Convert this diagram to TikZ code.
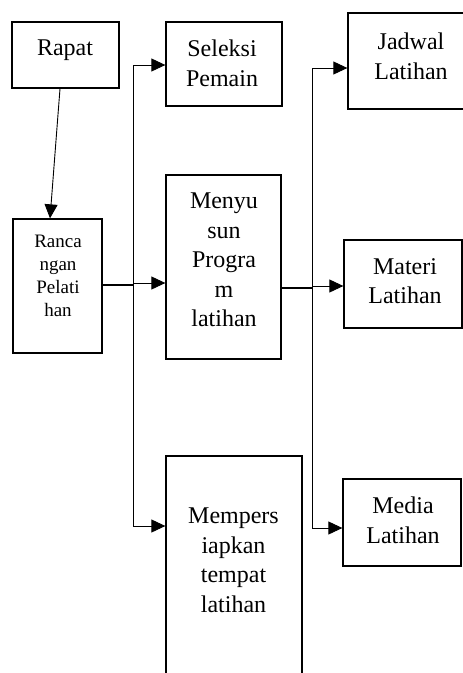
\documentclass[tikz,border=0pt]{standalone}
\usepackage{fontspec}
\setmainfont{Liberation Serif}
\usetikzlibrary{arrows.meta,calc}
\begin{document}
\begin{tikzpicture}[x=1pt,y=-1pt,
  box/.style={draw=black,line width=1.3pt,rectangle,inner sep=0pt},
  lbl/.style={anchor=north,inner sep=0pt,align=center,font=\fontsize{24}{29.5}\selectfont},
  slbl/.style={anchor=north,inner sep=0pt,align=center,font=\fontsize{19}{23}\selectfont},
  conn/.style={line width=0.9pt},
  thick conn/.style={line width=1.4pt},
  arr/.style={conn,-{Triangle[length=14pt,width=13pt]}}]
\clip (0,0) rectangle (463,673);
% boxes
\node[box,minimum width=107pt,minimum height=66pt] (rapat) at (65.5,55) {};
\node[lbl] (rapatT) at (65,39.5) {Rapat};
\node[box,minimum width=89pt,minimum height=134pt] (ranc) at (57.5,286) {};
\node[slbl] (rancT) at (58,235) {Ranca\\ngan\\Pelati\\han};
\node[box,minimum width=116pt,minimum height=84pt] (sel) at (224,64) {};
\node[lbl] (selT) at (222,40) {Seleksi\\Pemain};
\node[box,minimum width=115pt,minimum height=184pt] (meny) at (223.5,267) {};
\node[lbl] (menyT) at (224,193) {Menyu\\sun\\Progra\\m\\latihan};
\node[box,minimum width=136pt,minimum height=260pt] (memp) at (234,586) {};
\node[lbl] (mempT) at (233.5,508) {Mempers\\iapkan\\tempat\\latihan};
\node[box,minimum width=128pt,minimum height=96pt] (jad) at (412,61) {};
\node[lbl] (jadT) at (411,33) {Jadwal\\Latihan};
\node[box,minimum width=118pt,minimum height=88pt] (mat) at (403,284) {};
\node[lbl] (matT) at (405,258) {Materi\\Latihan};
\node[box,minimum width=118pt,minimum height=87pt] (med) at (402,522.5) {};
\node[lbl] (medT) at (403,497) {Media\\Latihan};
% trunk coordinates
\coordinate (LT) at (133,65);
\coordinate (LR) at (133,285);
\coordinate (LM) at (133,283);
\coordinate (LB) at (133,526);
\coordinate (RT) at (312,68);
\coordinate (RR) at (312,288);
\coordinate (RM) at (312,286);
\coordinate (RB) at (312,528);
% connectors
\draw[arr] ($(rapat.south)+(-5.5,0)$) -- ($(ranc.north)+(-7.5,0)$);
\draw[thick conn] (ranc.east |- LR) -- (LR);
\draw[conn] (LT) -- (LB);
\draw[arr] (LT) -- (sel.west |- LT);
\draw[arr] (LM) -- (meny.west |- LM);
\draw[arr] (LB) -- (memp.west |- LB);
\draw[thick conn] (meny.east |- RR) -- (RR);
\draw[conn] (RT) -- (RB);
\draw[arr] (RT) -- (jad.west |- RT);
\draw[arr] (RM) -- (mat.west |- RM);
\draw[arr] (RB) -- (med.west |- RB);
\end{tikzpicture}
\end{document}
